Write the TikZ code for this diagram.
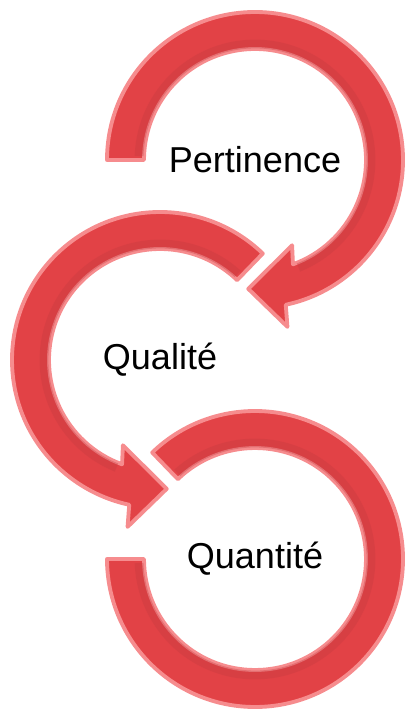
\documentclass[tikz,border=0pt]{standalone}
\usepackage{fontspec}
\setmainfont{Liberation Sans}
\definecolor{arrowred}{RGB}{226,66,70}
\definecolor{arrowrim}{RGB}{246,140,142}
\definecolor{arrowdark}{RGB}{196,58,64}

\begin{document}
\begin{tikzpicture}[x=0.02cm,y=0.02cm,line join=round]
\tikzstyle{every node}=[font=\fontsize{20.5}{24}\selectfont,text=black]
\tikzstyle{ring}=[fill=arrowred,draw=arrowrim,line width=2.2]
\tikzstyle{shadow line}=[draw=arrowdark,line width=5,opacity=0.35]

\useasboundingbox (0,0) rectangle (405,-709);

\coordinate (c1) at (255,-160);
\coordinate (c2) at (160,-360);
\coordinate (c3) at (255,-559);

% first arrow, clockwise
\path[ring] ([shift={(180:148)}]c1) arc[start angle=180,end angle=-78,radius=148]
  -- ([shift={(-79:170)}]c1) -- ([shift={(-93:129)}]c1) -- ([shift={(-66.5:93)}]c1)
  -- ([shift={(-70:111)}]c1) arc[start angle=-70,end angle=180,radius=111] -- cycle;
\draw[shadow line] ([shift={(178:116)}]c1) arc[start angle=178,end angle=-68,radius=116];

% second arrow, counterclockwise
\path[ring] ([shift={(46:148)}]c2) arc[start angle=46,end angle=258,radius=148]
  -- ([shift={(259:170)}]c2) -- ([shift={(273:129)}]c2) -- ([shift={(246.5:93)}]c2)
  -- ([shift={(250:111)}]c2) arc[start angle=250,end angle=46,radius=111] -- cycle;
\draw[shadow line] ([shift={(48:116)}]c2) arc[start angle=48,end angle=248,radius=116];

% third arrow, no head
\path[ring] ([shift={(134:148)}]c3) arc[start angle=134,end angle=-180,radius=148]
  -- ([shift={(-180:111)}]c3) arc[start angle=-180,end angle=134,radius=111] -- cycle;
\draw[shadow line] ([shift={(132:116)}]c3) arc[start angle=132,end angle=-178,radius=116];

\node (pertinence) at (c1) {Pertinence};
\node (qualite) at (c2) {Qualité};
\node (quantite) at (c3) {Quantité};
\end{tikzpicture}
\end{document}
